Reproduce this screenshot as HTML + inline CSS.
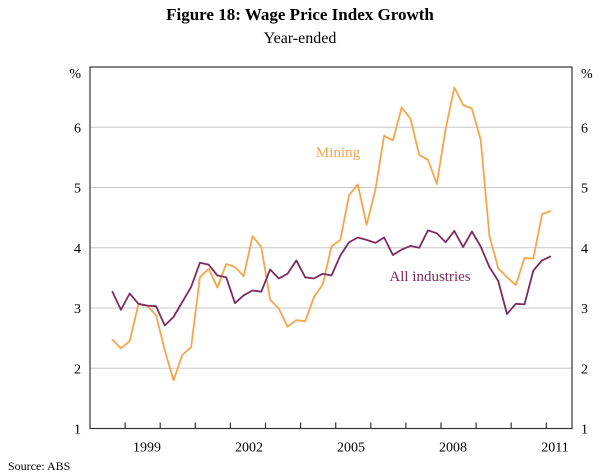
<!DOCTYPE html>
<html><head><meta charset="utf-8">
<style>
body{margin:0;background:#fff;width:600px;height:475px;overflow:hidden;font-family:"Liberation Serif",serif;}
svg{display:block}
</style></head>
<body>
<svg id="chart" width="600" height="475" font-family="Liberation Serif, serif">
<text x="300" y="20" text-anchor="middle" font-size="17" font-weight="bold">Figure 18: Wage Price Index Growth</text>
<text x="300" y="43" text-anchor="middle" font-size="16">Year-ended</text>
<text x="8" y="470" font-size="12">Source:  ABS</text>
<g id="grid"></g>
<g id="axes"></g>
<g id="series"></g>
<text x="338" y="157" text-anchor="middle" font-size="15" fill="#f7a54a">Mining</text>
<text x="430" y="281" text-anchor="middle" font-size="15" fill="#7e2b5f">All industries</text>
</svg>
<script>
const yTicks=[1,2,3,4,5,6];
const yearLabels=["1999","2002","2005","2008","2011"];
const allIndustries=[3.28,2.97,3.24,3.07,3.04,3.03,2.71,2.85,3.10,3.35,3.75,3.72,3.54,3.51,3.08,3.21,3.29,3.27,3.64,3.49,3.57,3.79,3.51,3.49,3.57,3.54,3.87,4.09,4.17,4.13,4.08,4.17,3.88,3.97,4.03,4.00,4.29,4.24,4.09,4.28,4.01,4.27,4.02,3.68,3.45,2.90,3.07,3.06,3.62,3.79,3.86];
const mining=[2.48,2.33,2.45,3.06,3.04,2.88,2.30,1.80,2.22,2.35,3.51,3.65,3.34,3.73,3.68,3.53,4.19,4.01,3.14,2.99,2.69,2.80,2.78,3.18,3.39,4.02,4.13,4.87,5.05,4.38,4.96,5.86,5.78,6.33,6.14,5.54,5.46,5.06,5.97,6.66,6.37,6.31,5.79,4.20,3.66,3.51,3.38,3.83,3.82,4.56,4.61];
const startYear=1998.63;
const L=90,R=572,T=67,B=428.5;
const X=t=>L+35.1*(t-1998);
const XL=yr=>147+34*(yr-1999);
const Y=v=>B-(v-1)*60.25;
const NS="http://www.w3.org/2000/svg";
function mk(tag,attrs,parent){const e=document.createElementNS(NS,tag);for(const k in attrs)e.setAttribute(k,attrs[k]);parent.appendChild(e);return e;}
const grid=document.getElementById('grid'),axes=document.getElementById('axes'),series=document.getElementById('series');
yTicks.forEach(v=>{
  if(v>1&&v<7){const g=mk('line',{x1:L,x2:R,y1:Y(v),y2:Y(v),stroke:'#c8c8c8','stroke-width':1},grid);
  
  }
  const a=mk('text',{x:L-9,y:Y(v)+5,'text-anchor':'end','font-size':14},axes);a.textContent=v;
  
  
  const b=mk('text',{x:R+9,y:Y(v)+5,'text-anchor':'start','font-size':14},axes);b.textContent=v;
  
  
});
const pl=mk('text',{x:L-9,y:T+11,'text-anchor':'end','font-size':14},axes);pl.textContent='%';


const pr=mk('text',{x:R+9,y:T+11,'font-size':14},axes);pr.textContent='%';


const frame=mk('rect',{x:L,y:T,width:R-L,height:B-T,fill:'none',stroke:'#333','stroke-width':1.2},axes);


for(let yr=1999;yr<=2011;yr++){const t=mk('line',{x1:X(yr),x2:X(yr),y1:B,y2:B-6,stroke:'#333','stroke-width':1.2},axes);
  
  }
yearLabels.forEach(s=>{const yr=+s;const t=mk('text',{x:XL(yr),y:B+23,'text-anchor':'middle','font-size':14},axes);t.textContent=s;
  
  });
function line(data,color,name){
  const d=data.map((v,i)=>(i?'L':'M')+X(startYear+i*0.25).toFixed(1)+','+Y(v).toFixed(1)).join(' ');
  const p=mk('path',{d:d,fill:'none',stroke:color,'stroke-width':1.8,'stroke-linejoin':'round'},series);
  
  
}
line(mining,'#f7a54a','mining-line');
line(allIndustries,'#7e2b5f','all-industries-line');
</script>
</body></html>
